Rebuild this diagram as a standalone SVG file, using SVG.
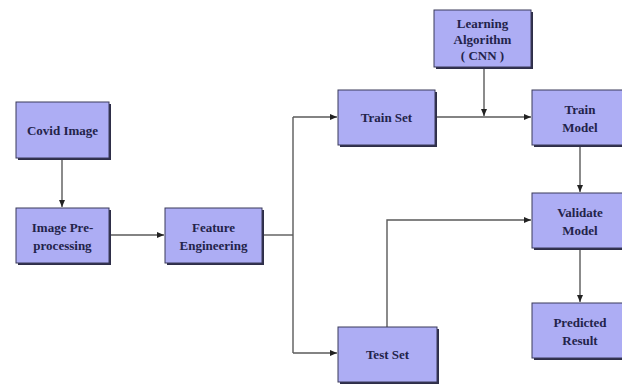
<svg xmlns="http://www.w3.org/2000/svg" width="622" height="385" viewBox="0 0 622 385">
<defs>
<style>
.box{fill:#adadf4;stroke:#3a3a5a;stroke-width:1}
.sh{fill:#2e2e48}
.t{font-family:"Liberation Serif","DejaVu Serif",serif;font-weight:bold;font-size:13px;fill:#23234a;text-anchor:middle}
.c{fill:none;stroke:#5a5a5a;stroke-width:1.4}
</style>
<marker id="ah" markerWidth="8" markerHeight="8" refX="7" refY="4" orient="auto" markerUnits="userSpaceOnUse">
<path d="M0,1 L7,4 L0,7 Z" fill="#222"/>
</marker>
</defs>
<rect width="622" height="385" fill="#ffffff"/>
<g id="connectors">
<path class="c" d="M62,158 V207" marker-end="url(#ah)"/>
<path class="c" d="M109,235 H164" marker-end="url(#ah)"/>
<path class="c" d="M262,235 H293"/>
<path class="c" d="M293,117 V353"/>
<path class="c" d="M293,117 H337" marker-end="url(#ah)"/>
<path class="c" d="M293,353 H337" marker-end="url(#ah)"/>
<path class="c" d="M435,117 H531" marker-end="url(#ah)"/>
<path class="c" d="M484,67 V116" marker-end="url(#ah)"/>
<path class="c" d="M580,145 V192" marker-end="url(#ah)"/>
<path class="c" d="M387,327 V220 H531" marker-end="url(#ah)"/>
<path class="c" d="M580,248 V302" marker-end="url(#ah)"/>
</g>
<g id="covid-image">
<rect class="sh" x="18" y="104" width="93" height="56"/>
<rect class="box" x="16" y="102" width="93" height="56"/>
<text class="t" x="62.5" y="135">Covid Image</text>
</g>
<g id="image-preprocessing">
<rect class="sh" x="18" y="210" width="93" height="55"/>
<rect class="box" x="16" y="208" width="93" height="55"/>
<text class="t" x="62.5" y="232">Image Pre-</text>
<text class="t" x="62.5" y="250">processing</text>
</g>
<g id="feature-engineering">
<rect class="sh" x="167" y="210" width="97" height="55"/>
<rect class="box" x="165" y="208" width="97" height="55"/>
<text class="t" x="213.5" y="232">Feature</text>
<text class="t" x="213.5" y="250">Engineering</text>
</g>
<g id="train-set">
<rect class="sh" x="340" y="92" width="97" height="55"/>
<rect class="box" x="338" y="90" width="97" height="55"/>
<text class="t" x="386.5" y="122">Train Set</text>
</g>
<g id="learning-algorithm">
<rect class="sh" x="436" y="12" width="97" height="57"/>
<rect class="box" x="434" y="10" width="97" height="57"/>
<text class="t" x="482.5" y="28">Learning</text>
<text class="t" x="482.5" y="44">Algorithm</text>
<text class="t" x="482.5" y="60">( CNN )</text>
</g>
<g id="train-model">
<rect class="sh" x="534" y="92" width="96" height="55"/>
<rect class="box" x="532" y="90" width="96" height="55"/>
<text class="t" x="580" y="114">Train</text>
<text class="t" x="580" y="132">Model</text>
</g>
<g id="validate-model">
<rect class="sh" x="534" y="195" width="96" height="55"/>
<rect class="box" x="532" y="193" width="96" height="55"/>
<text class="t" x="580" y="217">Validate</text>
<text class="t" x="580" y="235">Model</text>
</g>
<g id="predicted-result">
<rect class="sh" x="534" y="305" width="96" height="55"/>
<rect class="box" x="532" y="303" width="96" height="55"/>
<text class="t" x="580" y="327">Predicted</text>
<text class="t" x="580" y="345">Result</text>
</g>
<g id="test-set">
<rect class="sh" x="340" y="329" width="99" height="55"/>
<rect class="box" x="338" y="327" width="99" height="55"/>
<text class="t" x="387.5" y="359">Test Set</text>
</g>
</svg>
